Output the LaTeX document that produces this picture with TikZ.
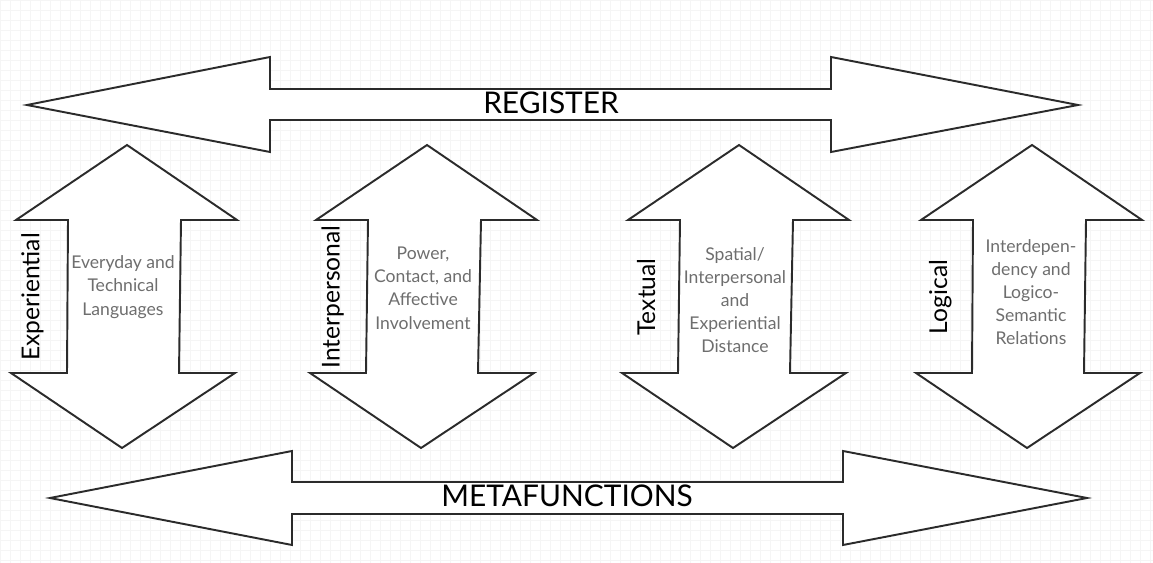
\documentclass[tikz,border=0pt]{standalone}
\usepackage{fontspec}
\setmainfont{Lato}

\definecolor{edgegray}{HTML}{2B2B2B}
\definecolor{descgray}{HTML}{6E6E6E}
\definecolor{gridgray}{HTML}{F5F5F5}

\begin{document}
\begin{tikzpicture}[x=0.02cm, y=-0.02cm,
  arrowbody/.style={fill=white, draw=edgegray, line width=1.1pt, line join=miter},
  title/.style={anchor=base, font=\fontsize{17}{20}\selectfont},
  func/.style={anchor=base, rotate=90, font=\fontsize{14}{17}\selectfont},
  desc/.style={align=center, text=descgray, font=\fontsize{10}{13.2}\selectfont}]

\def\ytip{145}
\def\yhead{220}
\def\yfoot{373}
\def\ybot{448}
\def\ylabel{297}

% top tip x, bottom tip x
\def\updown#1#2{%
  \filldraw[arrowbody] (#1,\ytip) -- ({#1+110},\yhead) -- ({#1+54},\yhead)
    -- ({#2+57},\yfoot) -- ({#2+113},\yfoot) -- (#2,\ybot)
    -- ({#2-111},\yfoot) -- ({#2-55},\yfoot) -- ({#1-59},\yhead)
    -- ({#1-111},\yhead) -- cycle;}

\useasboundingbox (0,0) rectangle (1153,563);
\draw[gridgray, line width=0.3pt, step=0.2cm] (0,0) grid (1153,563);

% register
\filldraw[arrowbody] (27,105) -- (270,57) -- (270,89) -- (831,89) -- (831,57)
  -- (1078,105) -- (831,152) -- (831,120) -- (270,120) -- (270,152) -- cycle;
\node[title] (register) at (551,114) {REGISTER};

\updown{127}{122}
\updown{427}{421}
\updown{739}{733}
\updown{1032}{1027}

\node[func] (exper) at (39.5,\ylabel) {Experiential};
\node[func] (inter) at (339.5,\ylabel) {Interpersonal};
\node[func] (textu) at (655,\ylabel) {Textual};
\node[func] (logic) at (947,\ylabel) {Logical};

\node[desc] (experd) at (123,287) {Everyday and\\Technical\\Languages};
\node[desc] (interd) at (423,288) {Power,\\Contact, and\\Affective\\Involvement};
\node[desc] (textud) at (735,300) {Spatial/\\Interpersonal\\and\\Experiential\\Distance};
\node[desc] (logicd) at (1031,292) {Interdepen-\\dency and\\Logico-\\Semantic\\Relations};

% metafunctions
\filldraw[arrowbody] (50,498) -- (292,451) -- (292,482) -- (843,482) -- (843,451)
  -- (1087,498) -- (843,545) -- (843,514) -- (292,514) -- (292,545) -- cycle;
\node[title] (meta) at (567,507) {METAFUNCTIONS};

\end{tikzpicture}
\end{document}
